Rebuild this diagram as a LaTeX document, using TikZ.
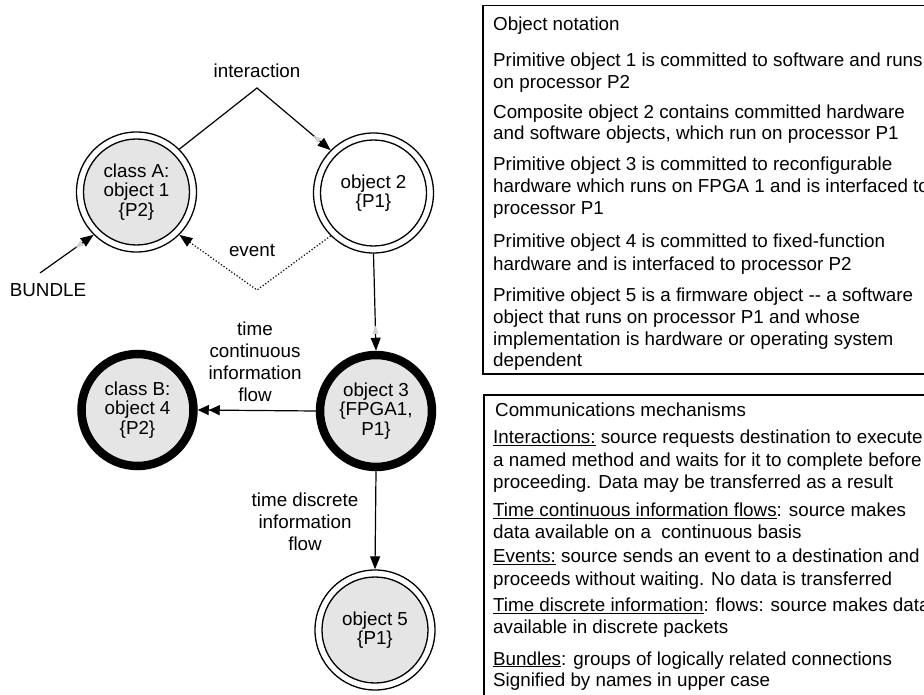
\documentclass[tikz,border=0pt]{standalone}
\usepackage{fontspec}
\setmainfont{Liberation Sans}
\usetikzlibrary{arrows.meta,decorations.markings}
\definecolor{objfill}{gray}{0.90}
\definecolor{ghost}{gray}{0.82}

\begin{document}
\begin{tikzpicture}[x=1pt,y=-1pt,
  every node/.style={font=\fontsize{18.8}{19.5}\selectfont},
  objdbl/.style={circle, draw, line width=1.3pt, fill=white, minimum size=120pt,
    inner sep=0pt, align=center,
    path picture={\draw[line width=1.3pt, fill=#1]
      (path picture bounding box.center) circle[radius=53pt];}},
  objthick/.style={circle, draw, line width=8.5pt, fill=objfill, minimum size=112pt,
    inner sep=0pt, align=center},
  lbl/.style={align=center, inner sep=0pt, font=\fontsize{18.8}{22}\selectfont},
  txt/.style={anchor=base west, inner sep=0pt},
  link/.style={line width=1.2pt, -{Triangle[length=13pt,width=10pt]}},
  dlink/.style={line width=1.2pt, -{Triangle[length=11pt,width=10pt]Triangle[length=11pt,width=10pt]}},
  evlink/.style={line width=1.2pt, dash pattern=on 1.2pt off 2pt,
    -{Triangle[length=13pt,width=10pt]}},
  ghostmark/.style={decorate, decoration={markings,
    mark=at position -#1 with {\fill[ghost] (0,3) -- (0,-3) -- (-8,0) -- cycle;}}},
  panel/.style={line width=1.2pt}
]
\useasboundingbox (0,0) rectangle (924,695);
\clip (0,0) rectangle (924,695);

% objects
\node[objdbl=objfill] (o1) at (136.5,192) {class A:\\object 1\\\{P2\}};
\node[objdbl=white]   (o2) at (373.5,193) {object 2\\\{P1\}};
\node[objthick]       (o3) at (376,411)   {object 3\\\{FPGA1,\\P1\}};
\node[objthick]       (o4) at (137.5,410) {class B:\\object 4\\\{P2\}};
\node[objdbl=objfill] (o5) at (375,630)   {object 5\\\{P1\}};

% bend points and free ends
\coordinate (ia) at (257,88);
\coordinate (ev) at (257,290);
\coordinate (bs) at (40,273);

% connectors
\draw[link] (o1.45) -- (ia) -- (o2.135);
\path[ghostmark=14pt] (o1.45) -- (ia) -- (o2.135);
\draw[evlink] (o2.-135) -- (ev) -- (o1.-45);
\draw[link] (bs) -- (o1.-135);
\path[ghostmark=14pt] (bs) -- (o1.-135);
\draw[link] (o2.south) -- (o3.north);
\path[ghostmark=17pt] (o2.south) -- (o3.north);
\draw[dlink] (o3.west) -- (o4.east);
\draw[link] (o3.south) -- (o5.north);

% connector labels (a multi-line label sits on its last baseline)
\node[anchor=base] (lint) at (257,77.5) {interaction};
\node[anchor=base] (lev) at (252,257) {event};
\node[anchor=base] (lbun) at (48,297) {BUNDLE};
\node[lbl, anchor=base] (ltc) at (255,401.7) {time\\continuous\\information\\flow};
\node[lbl, anchor=base] (ltd) at (305,550.7) {time discrete\\information\\flow};

% notation panel
\draw[panel] (483,5.5) rectangle (960,374);
\foreach \yy/\linetext [count=\i] in {
  30.7/{Object notation},
  66.7/{Primitive object 1 is committed to software and runs},
  88.3/{on processor P2},
  118.3/{Composite object 2 contains committed hardware},
  140/{and software objects, which run on processor P1},
  170.7/{Primitive object 3 is committed to reconfigurable},
  192.7/{hardware which runs on FPGA 1 and is interfaced to},
  215/{processor P1},
  247.3/{Primitive object 4 is committed to fixed-function},
  270/{hardware and is interfaced to processor P2},
  301.7/{Primitive object 5 is a firmware object {-}{-} a software},
  323.3/{object that runs on processor P1 and whose},
  345/{implementation is hardware or operating system},
  366.7/{dependent}}
  \node[txt] (n\i) at (493,\yy) {\linetext};

% communications panel
\draw[panel] (484,395) rectangle (960,720);
\node[txt] (cm) at (495,416.7) {Communications mechanisms};
\foreach \yy/\linetext [count=\i] in {
  443.3/{\underline{Interactions:} source requests destination to execute},
  466/{a named method and waits for it to complete before},
  488.3/{proceeding. Data may be transferred as a result},
  516.7/{\underline{Time continuous information flows}: source makes},
  538.3/{data available on a\ \ continuous basis},
  562.7/{\underline{Events:} source sends an event to a destination and},
  585/{proceeds without waiting. No data is transferred},
  611.7/{\underline{Time discrete information}: flows: source makes data},
  633.3/{available in discrete packets},
  665/{\underline{Bundles}: groups of logically related connections},
  686.7/{Signified by names in upper case}}
  \node[txt] (c\i) at (493,\yy) {\linetext};
\end{tikzpicture}
\end{document}
